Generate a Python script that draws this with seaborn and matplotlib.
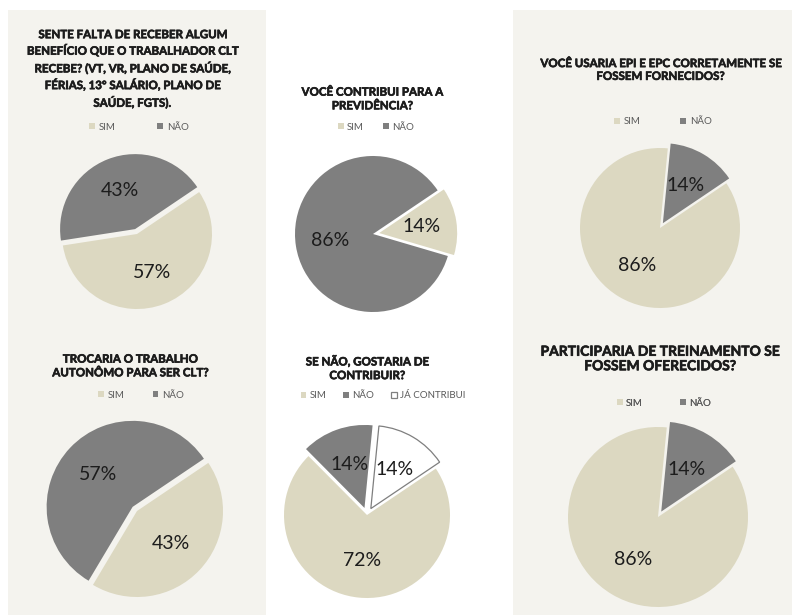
import matplotlib
matplotlib.use("Agg")
import matplotlib.pyplot as plt
import matplotlib.patheffects as pe
from matplotlib.patches import Rectangle
import seaborn as sns

sns.set_theme(style="white")
plt.rcParams['font.family'] = ['Lato', 'DejaVu Sans']

# ---- survey answers (percent) ----
q1_title = "SENTE FALTA DE RECEBER ALGUM\nBENEFÍCIO QUE O TRABALHADOR CLT\nRECEBE? (VT, VR, PLANO DE SAÚDE,\nFÉRIAS, 13º SALÁRIO, PLANO DE\nSAÚDE, FGTS)."
q1_labels = ["SIM", "NÃO"]
q1_values = [57, 43]

q2_title = "VOCÊ CONTRIBUI PARA A\nPREVIDÊNCIA?"
q2_labels = ["SIM", "NÃO"]
q2_values = [14, 86]

q3_title = "VOCÊ USARIA EPI E EPC CORRETAMENTE SE\nFOSSEM FORNECIDOS?"
q3_labels = ["SIM", "NÃO"]
q3_values = [86, 14]

q4_title = "TROCARIA O TRABALHO\nAUTONÔMO PARA SER CLT?"
q4_labels = ["SIM", "NÃO"]
q4_values = [43, 57]

q5_title = "SE NÃO, GOSTARIA DE\nCONTRIBUIR?"
q5_labels = ["SIM", "NÃO", "JÁ CONTRIBUI"]
q5_values = [72, 14, 14]

q6_title = "PARTICIPARIA DE TREINAMENTO SE\nFOSSEM OFERECIDOS?"
q6_labels = ["SIM", "NÃO"]
q6_values = [86, 14]

palette = {"SIM": "#dcd8c1", "NÃO": "#7f7f7f", "JÁ CONTRIBUI": "#ffffff"}
panel_bg = "#f4f3ee"
text_dark = "#1c1c1c"
legend_txt = "#595959"

W, H = 792, 615
fig = plt.figure(figsize=(W / 100, H / 100), dpi=100)
fig.patch.set_facecolor("white")
ax = fig.add_axes([0, 0, 1, 1])
ax.set_xlim(0, W)
ax.set_ylim(0, H)
ax.set_aspect("equal")
ax.axis("off")

# shaded backgrounds for the left and right columns
ax.add_patch(Rectangle((8, 0), 258, H - 10, facecolor=panel_bg, edgecolor="none", zorder=0))
ax.add_patch(Rectangle((513, 0), W - 513, H - 10, facecolor=panel_bg, edgecolor="none", zorder=0))

# slightly heavier strokes for the bold titles
title_effect = [pe.withStroke(linewidth=0.45, foreground=text_dark)]


def Y(y):
    return H - y


def draw_pie(labels, values, center, radius, explode, title, title_pos, title_size,
             title_spacing, legend_pos, legend_spacing):
    colors = [palette[l] for l in labels]
    # explode given as a fraction of the radius; matplotlib expects data units
    offsets = [e * radius for e in explode]
    wedges, _, autotexts = ax.pie(
        values, labels=None, colors=colors, explode=offsets,
        startangle=34, counterclock=False, center=(center[0], Y(center[1])),
        radius=radius, frame=True, autopct=lambda p: f"{p:.0f}%",
        pctdistance=0.55,
        wedgeprops=dict(linewidth=0),
        textprops=dict(fontsize=14, color=text_dark),
    )
    for w, l in zip(wedges, labels):
        if l == "JÁ CONTRIBUI":
            w.set_edgecolor("#7f7f7f")
            w.set_linewidth(0.9)
        w.set_zorder(2)
    for t in autotexts:
        t.set_zorder(3)
    ax.text(title_pos[0], Y(title_pos[1]), title, ha="center", va="center",
            fontsize=title_size, fontweight="bold", color=text_dark,
            linespacing=title_spacing, zorder=3, path_effects=title_effect)
    leg = ax.legend(
        wedges, labels, loc="center", bbox_to_anchor=(legend_pos[0], Y(legend_pos[1])),
        bbox_transform=ax.transData, ncol=len(labels), frameon=False,
        fontsize=7, handlelength=0.6, handleheight=0.6, handletextpad=0.35,
        columnspacing=legend_spacing, borderpad=0, borderaxespad=0,
    )
    for t in leg.get_texts():
        t.set_color(legend_txt)
    ax.add_artist(leg)


draw_pie(q1_labels, q1_values, (137, 234), 75, [0, 0.07], q1_title, (132, 69), 8.3, 1.45,
         (139, 127), 4.3)
draw_pie(q2_labels, q2_values, (373, 234), 78, [0.08, 0], q2_title, (372, 99), 8.3, 1.3,
         (376, 127), 2.0)
draw_pie(q3_labels, q3_values, (660, 228), 80, [0, 0.07], q3_title, (660, 70), 8.3, 1.2,
         (663, 122), 4.1)
draw_pie(q4_labels, q4_values, (137, 511), 86, [0, 0.07], q4_title, (130, 366), 8.3, 1.3,
         (141, 395), 2.9)
draw_pie(q5_labels, q5_values, (367, 515), 83, [0, 0.09, 0.09], q5_title, (367, 368), 8.3, 1.3,
         (383, 396), 1.7)
draw_pie(q6_labels, q6_values, (658, 517), 90, [0, 0.07], q6_title, (660, 359), 10, 1.25,
         (664, 403), 3.8)

ax.set_xlim(0, W)
ax.set_ylim(0, H)

fig.savefig("out.png", dpi=100, facecolor=fig.get_facecolor())
